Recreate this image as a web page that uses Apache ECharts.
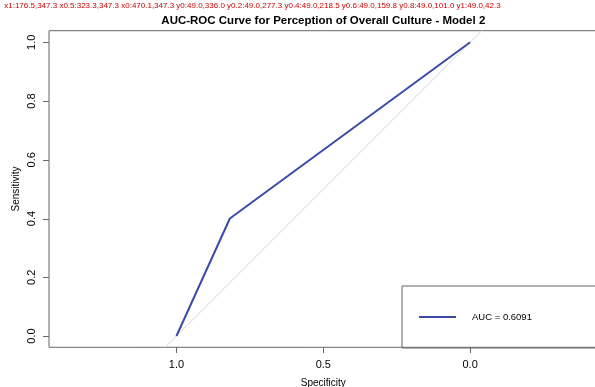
<!DOCTYPE html>
<html>
<head>
<meta charset="utf-8">
<script src="https://cdn.jsdelivr.net/npm/echarts@6/dist/echarts.min.js"></script>
<style>
  html, body { margin: 0; padding: 0; background: #fff; }
  #chart { width: 595px; height: 387px; }
</style>
</head>
<body>
<div id="chart"></div>
<script>
// ROC curve points as [specificity, sensitivity]
const specificity = [1.0, 0.8182, 0.0];
const sensitivity = [0.0, 0.4, 1.0];
const aucValue = 0.6091;

// chance line (sensitivity = 1 - specificity), clipped to the plot area
const chanceSpec = [1.5, -0.5];
const chanceSens = [-0.5, 1.5];

const xTicks = [1.0, 0.5, 0.0];
const yTicks = [0.0, 0.2, 0.4, 0.6, 0.8, 1.0];

const rocData = specificity.map((s, i) => [s, sensitivity[i]]);
const chanceData = chanceSpec.map((s, i) => [s, chanceSens[i]]);

// axis extents (asp = 1, x reversed like specificity plots)
const xMin = -0.434, xMax = 1.434;
const yMin = -0.0385, yMax = 1.0395;

const axisColor = '#666';
const rocColor = '#3a4aa8';
const font = 'Liberation Sans, Arial, sans-serif';
const tickLen = 6;

const chart = echarts.init(document.getElementById('chart'), null, { renderer: 'canvas' });
chart.setOption({
  animation: false,
  backgroundColor: '#fff',
  title: {
    text: 'AUC-ROC Curve for Perception of Overall Culture - Model 2',
    left: 323.3,
    textAlign: 'center',
    top: 15,
    padding: 0,
    textStyle: { fontFamily: font, fontWeight: 'bold', fontSize: 11.5, color: '#000' }
  },
  grid: {
    left: 49, top: 30.7, width: 548.6, height: 316.6,
    outerBoundsMode: 'none', containLabel: false,
    show: true, borderColor: axisColor, borderWidth: 1, backgroundColor: 'transparent'
  },
  legend: {
    left: 402, top: 286,
    data: [{ name: 'AUC = ' + aucValue.toFixed(4), icon: 'rect' }],
    itemWidth: 37, itemHeight: 2,
    itemStyle: { color: rocColor },
    padding: [26, 100, 26, 17],
    borderColor: axisColor, borderWidth: 1,
    textStyle: { fontFamily: font, fontSize: 9.5, color: '#000', padding: [0, 0, 0, 11] }
  },
  xAxis: {
    type: 'value', inverse: true, min: xMin, max: xMax,
    name: 'Specificity', nameLocation: 'middle', nameGap: 31, nameMoveOverlap: false,
    nameTextStyle: { fontFamily: font, fontSize: 10, color: '#000' },
    axisLine: { show: false, onZero: false },
    splitLine: { show: false },
    axisTick: { show: false },
    axisLabel: {
      fontFamily: font, fontSize: 11, color: '#000', margin: 12,
      customValues: xTicks, formatter: v => v.toFixed(1)
    }
  },
  yAxis: {
    type: 'value', min: yMin, max: yMax,
    name: 'Sensitivity', nameLocation: 'middle', nameGap: 28, nameMoveOverlap: false,
    nameTextStyle: { fontFamily: font, fontSize: 10, color: '#000' },
    axisLine: { show: false, onZero: false },
    splitLine: { show: false },
    axisTick: { show: false },
    axisLabel: {
      fontFamily: font, fontSize: 11, color: '#000', rotate: 90, margin: 12,
      customValues: yTicks, formatter: v => v.toFixed(1)
    }
  },
  series: [
    {
      name: 'chance', type: 'line', data: chanceData, clip: true,
      symbol: 'none', silent: true,
      lineStyle: { color: '#d3d3d3', width: 1 }
    },
    {
      name: 'AUC = ' + aucValue.toFixed(4), type: 'line', data: rocData, clip: true,
      symbol: 'none',
      itemStyle: { color: rocColor },
      lineStyle: { color: rocColor, width: 2 }
    }
  ]
});

// outward tick marks on the bottom and left sides of the box, placed through the axis scales
const toPx = (x, y) => chart.convertToPixel({ xAxisIndex: 0, yAxisIndex: 0 }, [x, y]);
const crisp = v => Math.round(v) + 0.5;
const tickRect = (x, y, w, h) => ({
  type: 'rect', z: 100, silent: true,
  shape: { x, y, width: w, height: h },
  style: { fill: axisColor }
});
let info = '';
const tickMarks = [];
try {
  xTicks.forEach(v => {
    const p = toPx(v, yMin);
    info += ' x' + v + ':' + (p ? p.map(n => n.toFixed(1)).join(',') : 'none');
    tickMarks.push(tickRect(Math.round(p[0]), Math.round(p[1]), 1, tickLen));
  });
  yTicks.forEach(v => {
    const p = toPx(xMax, v);
    info += ' y' + v + ':' + (p ? p.map(n => n.toFixed(1)).join(',') : 'none');
    tickMarks.push(tickRect(Math.round(p[0]) - tickLen, Math.round(p[1]), tickLen, 1));
  });
} catch (e) {
  info += ' err ' + e.message;
}
tickMarks.push({ type: 'text', left: 2, top: 2, z: 100, style: { text: info, fontSize: 8, fill: '#c00' } });
chart.setOption({ graphic: tickMarks });
</script>
</body>
</html>
